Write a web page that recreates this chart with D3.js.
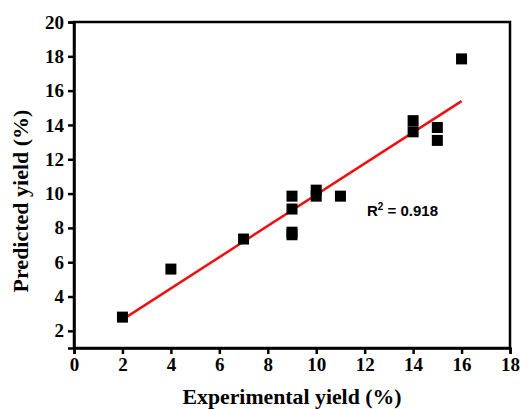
<!DOCTYPE html>
<html><head><meta charset="utf-8">
<script src="https://cdn.jsdelivr.net/npm/d3@7/dist/d3.min.js"></script>
<style>body{margin:0;background:#fff}</style>
</head><body><svg id="c" width="522" height="409"></svg>
<script>
const expYield = [2, 4, 7, 9, 9, 9, 9, 10, 10, 11, 14, 14, 15, 15, 16];
const predYield = [2.8, 5.6, 7.35, 9.85, 9.1, 7.75, 7.6, 10.2, 9.85, 9.85, 14.25, 13.6, 13.85, 13.1, 17.85];
const xTicks = [0, 2, 4, 6, 8, 10, 12, 14, 16, 18];
const yTicks = [2, 4, 6, 8, 10, 12, 14, 16, 18, 20];
const r2Label = "0.918";

const svg = d3.select("#c");
const x = d3.scaleLinear().domain([0, 18]).range([74, 510]);
const y = d3.scaleLinear().domain([1, 20]).range([348, 22]);
const serif = "'Liberation Serif','Times New Roman',serif";

// frame
svg.append("rect").attr("x", x(0)).attr("y", y(20)).attr("width", x(18) - x(0)).attr("height", y(1) - y(20))
  .attr("fill", "none").attr("stroke", "#000").attr("stroke-width", 2.5);

const gx = svg.append("g").attr("transform", `translate(0,${y(1)})`)
  .call(d3.axisBottom(x).tickValues(xTicks).tickSize(6).tickPadding(4).tickFormat(d3.format("d")));
const gy = svg.append("g").attr("transform", `translate(${x(0)},0)`)
  .call(d3.axisLeft(y).tickValues(yTicks).tickSize(6).tickPadding(4).tickFormat(d3.format("d")));
[gx, gy].forEach(g => {
  g.select(".domain").attr("stroke-width", 2.5);
  g.selectAll(".tick line").attr("stroke-width", 2.5);
  g.selectAll(".tick text").attr("font-family", serif).attr("font-weight", "bold").attr("font-size", 19).attr("fill", "#000");
});

// regression line from data
const n = expYield.length;
const mx = d3.mean(expYield), my = d3.mean(predYield);
let sxy = 0, sxx = 0;
for (let i = 0; i < n; i++) { sxy += (expYield[i] - mx) * (predYield[i] - my); sxx += (expYield[i] - mx) ** 2; }
const slope = sxy / sxx, icpt = my - slope * mx;
const x0 = d3.min(expYield), x1 = d3.max(expYield);
svg.append("line").attr("x1", x(x0)).attr("y1", y(icpt + slope * x0))
  .attr("x2", x(x1)).attr("y2", y(icpt + slope * x1))
  .attr("stroke", "#ee1111").attr("stroke-width", 2.5);

// points
const s = 11;
svg.selectAll("rect.pt").data(expYield.map((d, i) => [d, predYield[i]])).enter().append("rect")
  .attr("class", "pt").attr("x", d => x(d[0]) - s / 2).attr("y", d => y(d[1]) - s / 2)
  .attr("width", s).attr("height", s).attr("fill", "#000");

// R2 label
const t = svg.append("text").attr("x", 367).attr("y", 216)
  .attr("font-family", "'Liberation Sans',Arial,sans-serif").attr("font-weight", "bold").attr("font-size", 15).attr("fill", "#000");
t.append("tspan").text("R");
t.append("tspan").attr("dy", -6).attr("font-size", 10).text("2");
t.append("tspan").attr("dy", 6).text(" = " + r2Label);

// axis titles
svg.append("text").attr("x", 292).attr("y", 403.5).attr("text-anchor", "middle")
  .attr("textLength", 219).attr("lengthAdjust", "spacingAndGlyphs")
  .attr("font-family", serif).attr("font-weight", "bold").attr("font-size", 21).text("Experimental yield (%)");
svg.append("text").attr("transform", "translate(28,201) rotate(-90)").attr("text-anchor", "middle")
  .attr("font-family", serif).attr("font-weight", "bold").attr("font-size", 22).text("Predicted yield (%)");
</script></body></html>
